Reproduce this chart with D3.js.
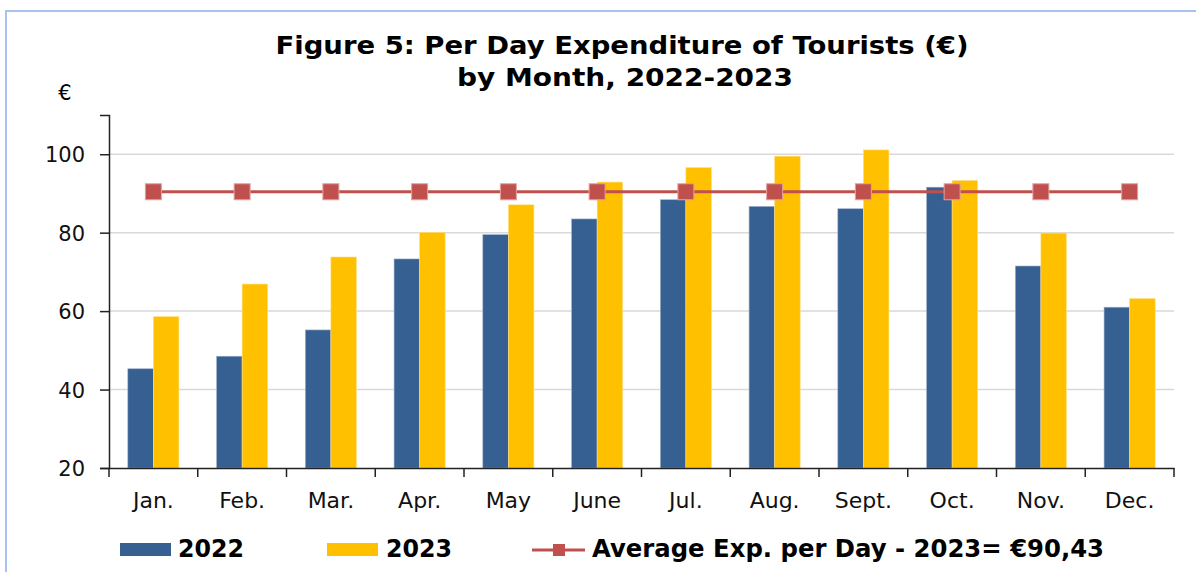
<!DOCTYPE html>
<html>
<head>
<meta charset="utf-8">
<script src="https://cdn.jsdelivr.net/npm/d3@7"></script>
<style>
  body { margin: 0; background: #fff; }
  svg { display: block; font-family: "DejaVu Sans", Verdana, sans-serif; }
</style>
</head>
<body>
<svg id="chart" width="1196" height="572"></svg>
<script>
// data
const months = ["Jan.", "Feb.", "Mar.", "Apr.", "May", "June", "Jul.", "Aug.", "Sept.", "Oct.", "Nov.", "Dec."]
const exp2022 = [45.3, 48.5, 55.2, 73.3, 79.5, 83.5, 88.4, 86.7, 86.1, 91.6, 71.5, 61.0]
const exp2023 = [58.6, 66.9, 73.8, 80.1, 87.1, 92.9, 96.6, 99.5, 101.1, 93.3, 79.9, 63.2]
const avg2023 = 90.43
const yTicks = [20, 40, 60, 80, 100]

const blue = "#376092"
const yellow = "#FFC000"
const red = "#C0504D"

const svg = d3.select("#chart")

// frame border (only top / left visible in the original)
svg.append("path")
	.attr("d", "M6,572 L6,11 L1196,11")
	.attr("fill", "none")
	.attr("stroke", "#A7C3EC")
	.attr("stroke-width", 2)

const plotLeft = 109, plotRight = 1174, plotTop = 115, plotBottom = 468

const x = d3.scaleBand().domain(months).range([plotLeft, plotRight]).padding(0)
const y = d3.scaleLinear().domain([20, 110]).range([plotBottom, plotTop])

const barW = x.bandwidth() * 0.288

// title
const title = svg.append("text")
	.attr("text-anchor", "middle")
	.attr("font-weight", "bold")
	.attr("font-size", 25)
	.attr("fill", "#000")
title.append("tspan").attr("x", 622).attr("y", 54)
	.attr("textLength", 693).attr("lengthAdjust", "spacingAndGlyphs")
	.text("Figure 5: Per Day Expenditure of Tourists (€)")
title.append("tspan").attr("x", 625).attr("y", 86)
	.attr("textLength", 336).attr("lengthAdjust", "spacingAndGlyphs")
	.text("by Month, 2022-2023")

// unit label
svg.append("text")
	.attr("x", 65).attr("y", 100)
	.attr("text-anchor", "middle")
	.attr("font-size", 21)
	.text("€")

// gridlines
svg.append("g")
	.selectAll("line")
	.data(yTicks.filter(d => d > 20))
	.join("line")
	.attr("x1", plotLeft).attr("x2", plotRight)
	.attr("y1", d => y(d)).attr("y2", d => y(d))
	.attr("stroke", "#D9D9D9")
	.attr("stroke-width", 1.5)

// bars
const groups = svg.append("g")
	.selectAll("g")
	.data(months)
	.join("g")

groups.append("rect")
	.attr("x", d => x(d) + x.bandwidth() / 2 - barW)
	.attr("y", (d, i) => y(exp2022[i]))
	.attr("width", barW)
	.attr("height", (d, i) => y(20) - y(exp2022[i]))
	.attr("fill", blue)
	.attr("stroke", "#9fb3cc")
	.attr("stroke-width", 0.6)

groups.append("rect")
	.attr("x", d => x(d) + x.bandwidth() / 2)
	.attr("y", (d, i) => y(exp2023[i]))
	.attr("width", barW)
	.attr("height", (d, i) => y(20) - y(exp2023[i]))
	.attr("fill", yellow)
	.attr("stroke", "#ffe08a")
	.attr("stroke-width", 0.6)

// average line + markers
const avgData = months.map(m => ({ m, v: avg2023 }))
svg.append("path")
	.datum(avgData)
	.attr("fill", "none")
	.attr("stroke", red)
	.attr("stroke-width", 3)
	.attr("d", d3.line().x(d => x(d.m) + x.bandwidth() / 2).y(d => y(d.v)))

const mk = 16
svg.append("g")
	.selectAll("rect")
	.data(avgData)
	.join("rect")
	.attr("x", d => x(d.m) + x.bandwidth() / 2 - mk / 2)
	.attr("y", d => y(d.v) - mk / 2)
	.attr("width", mk).attr("height", mk)
	.attr("fill", red)
	.attr("stroke", "#e3a09e")
	.attr("stroke-width", 1)

// y axis
const yAxis = svg.append("g")
	.attr("transform", `translate(${plotLeft},0)`)
	.call(d3.axisLeft(y).tickValues(yTicks).tickSize(9).tickPadding(15))
yAxis.select(".domain").attr("stroke", "#222").attr("stroke-width", 1.5)
yAxis.selectAll(".tick line").attr("stroke", "#222").attr("stroke-width", 1.5)
yAxis.selectAll(".tick text")
	.attr("font-family", "DejaVu Sans, Verdana, sans-serif")
	.attr("font-size", 21)
	.attr("fill", "#111")
	.attr("dy", "0.36em")

// x axis: labels at band centres, ticks at band edges
const xAxis = svg.append("g")
	.attr("transform", `translate(0,${plotBottom})`)
	.call(d3.axisBottom(x).tickSize(0).tickPadding(24))
xAxis.select(".domain").attr("stroke", "#222").attr("stroke-width", 1.5)
xAxis.selectAll(".tick text")
	.attr("font-family", "DejaVu Sans, Verdana, sans-serif")
	.attr("font-size", 22)
	.attr("fill", "#111")

const edges = months.map(m => x(m)).concat([x.range()[1]])
xAxis.append("g")
	.selectAll("line")
	.data(edges)
	.join("line")
	.attr("x1", d => d).attr("x2", d => d)
	.attr("y1", 0).attr("y2", 9)
	.attr("stroke", "#222")
	.attr("stroke-width", 1.5)

// legend
const legend = svg.append("g")
	.attr("font-weight", "bold")
	.attr("font-size", 24)

legend.append("rect").attr("x", 120).attr("y", 543).attr("width", 51).attr("height", 13).attr("fill", blue)
legend.append("text").attr("x", 178).attr("y", 557)
	.attr("textLength", 66).attr("lengthAdjust", "spacingAndGlyphs").text("2022")

legend.append("rect").attr("x", 327).attr("y", 543).attr("width", 51).attr("height", 13).attr("fill", yellow)
legend.append("text").attr("x", 386).attr("y", 557)
	.attr("textLength", 66).attr("lengthAdjust", "spacingAndGlyphs").text("2023")

legend.append("line").attr("x1", 532).attr("x2", 585).attr("y1", 550).attr("y2", 550)
	.attr("stroke", red).attr("stroke-width", 3)
legend.append("rect").attr("x", 553).attr("y", 544).attr("width", 12).attr("height", 12)
	.attr("fill", red)
legend.append("text").attr("x", 592).attr("y", 557)
	.attr("textLength", 512).attr("lengthAdjust", "spacingAndGlyphs")
	.text("Average Exp. per Day - 2023= €90,43")
</script>
</body>
</html>
